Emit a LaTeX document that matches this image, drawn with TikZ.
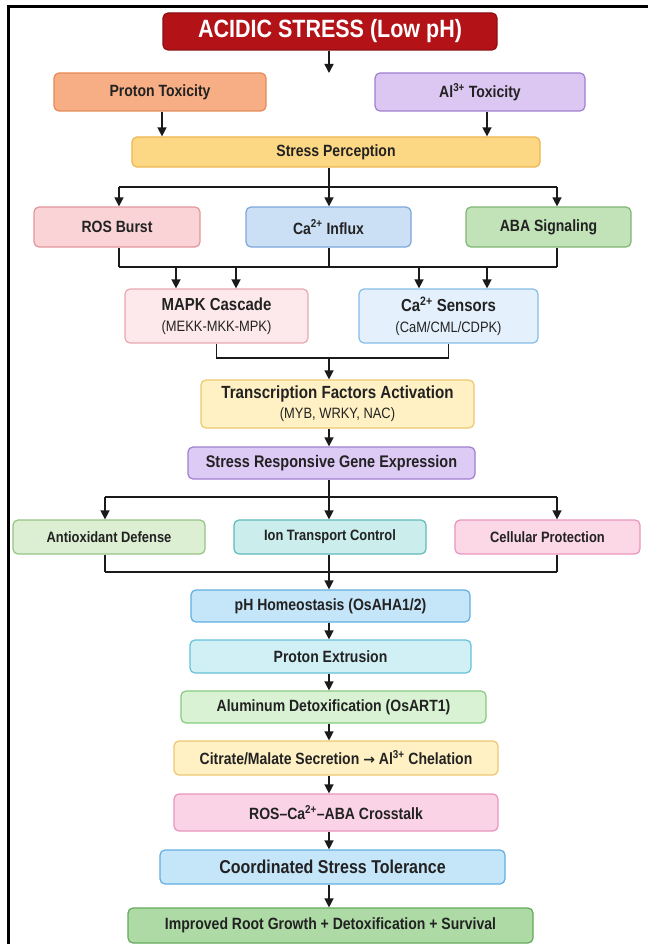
\documentclass[tikz,border=0pt]{standalone}
\usepackage{fontspec}
\setmainfont{Liberation Sans}[FakeStretch=0.86]
\newfontfamily\arrowfont{DejaVu Sans}
\usetikzlibrary{arrows.meta}

\definecolor{acidF}{HTML}{B31217}\definecolor{acidD}{HTML}{8E0E12}
\definecolor{protF}{HTML}{F8AE84}\definecolor{protD}{HTML}{E48A58}
\definecolor{alF}{HTML}{DCC6F2}\definecolor{alD}{HTML}{A07FD0}
\definecolor{percF}{HTML}{FCD884}\definecolor{percD}{HTML}{EDB550}
\definecolor{rosF}{HTML}{F9D3D6}\definecolor{rosD}{HTML}{E3959C}
\definecolor{cainF}{HTML}{CCE0F5}\definecolor{cainD}{HTML}{7AA7DA}
\definecolor{abaF}{HTML}{C2E3B8}\definecolor{abaD}{HTML}{7FB573}
\definecolor{mapkF}{HTML}{FDE9EB}\definecolor{mapkD}{HTML}{E6A8AF}
\definecolor{casF}{HTML}{E4F1FC}\definecolor{casD}{HTML}{86BCE8}
\definecolor{tfF}{HTML}{FFF1C4}\definecolor{tfD}{HTML}{EFC670}
\definecolor{srgeF}{HTML}{DECBF5}\definecolor{srgeD}{HTML}{A07FD0}
\definecolor{antiF}{HTML}{DDEFD2}\definecolor{antiD}{HTML}{95C486}
\definecolor{ionF}{HTML}{CBEDEC}\definecolor{ionD}{HTML}{5FBABA}
\definecolor{cellF}{HTML}{FCD7E6}\definecolor{cellD}{HTML}{E995BD}
\definecolor{phF}{HTML}{C5E5F8}\definecolor{phD}{HTML}{62AEE2}
\definecolor{pexF}{HTML}{D0F0F6}\definecolor{pexD}{HTML}{66C0D8}
\definecolor{aldF}{HTML}{DAF2D4}\definecolor{aldD}{HTML}{86CB7E}
\definecolor{crossF}{HTML}{FAD3E6}\definecolor{crossD}{HTML}{E995BD}
\definecolor{goodF}{HTML}{ADDAA5}\definecolor{goodD}{HTML}{64AA5A}
\definecolor{lnk}{HTML}{1A1A1A}
\definecolor{txt}{HTML}{222222}

\tikzset{
  box/.style={draw, rounded corners=5pt, line width=1.2pt, inner sep=0pt,
    align=center, text=txt, font=\bfseries\fontsize{16.3}{19}\selectfont},
  arr/.style={-{Triangle[width=9pt,length=9pt]}, line width=1.4pt, draw=lnk},
  wire/.style={line width=1.4pt, draw=lnk},
}
\newcommand{\subline}[1]{{\mdseries\fontsize{15}{18}\selectfont #1}}

\begin{document}
\begin{tikzpicture}[x=1pt,y=-1pt]
  \useasboundingbox (0,0) rectangle (648,944);
  \draw[line width=3pt] (8,944) -- (8,7) -- (648,7);

  % columns and buses
  \coordinate (axis) at (329,0);
  \coordinate (colL) at (119,0);
  \coordinate (colA) at (105,0);
  \coordinate (colR) at (557,0);
  \coordinate (hit) at (329,73);
  \coordinate (bus1) at (329,187);
  \coordinate (bus2) at (329,267);
  \coordinate (bus3) at (329,358);
  \coordinate (bus4) at (329,497);
  \coordinate (bus5) at (329,572);

  \node[box, fill=acidF, draw=acidD, text=white, minimum width=334, minimum height=37,
    font=\bfseries\fontsize{25}{28}\selectfont] (acid) at (330,31.5) {ACIDIC STRESS (Low pH)};
  \node[box, fill=protF, draw=protD, minimum width=212, minimum height=38] (proton) at (160,92) {Proton Toxicity};
  \node[box, fill=alF, draw=alD, minimum width=210, minimum height=38] (al) at (480,92) {Al\textsuperscript{3+} Toxicity};
  \node[box, fill=percF, draw=percD, minimum width=408, minimum height=30] (perc) at (336,152) {Stress Perception};

  \node[box, fill=rosF, draw=rosD, minimum width=166, minimum height=40] (ros) at (117,227) {ROS Burst};
  \node[box, fill=cainF, draw=cainD, minimum width=165, minimum height=40] (cain) at (328.5,227) {Ca\textsuperscript{2+} Influx};
  \node[box, fill=abaF, draw=abaD, minimum width=165, minimum height=40] (aba) at (548.5,227) {ABA Signaling};

  \node[box, fill=mapkF, draw=mapkD, minimum width=183, minimum height=54,
    font=\bfseries\fontsize{17.4}{21}\selectfont] (mapk) at (216.5,316)
    {MAPK Cascade\\\subline{(MEKK-MKK-MPK)}};
  \node[box, fill=casF, draw=casD, minimum width=179, minimum height=54,
    font=\bfseries\fontsize{17.4}{21}\selectfont] (cas) at (448.5,316)
    {Ca\textsuperscript{2+} Sensors\\\subline{(CaM/CML/CDPK)}};

  \node[box, fill=tfF, draw=tfD, minimum width=273, minimum height=48,
    font=\bfseries\fontsize{17.6}{20}\selectfont] (tf) at (337.5,404)
    {Transcription Factors Activation\\\subline{(MYB, WRKY, NAC)}};
  \node[box, fill=srgeF, draw=srgeD, minimum width=287, minimum height=32,
    font=\bfseries\fontsize{16.8}{19}\selectfont] (srge) at (331.5,463) {Stress Responsive Gene Expression};

  \node[box, fill=antiF, draw=antiD, minimum width=192, minimum height=34,
    font=\bfseries\fontsize{15}{18}\selectfont] (anti) at (109,537) {Antioxidant Defense};
  \node[box, fill=ionF, draw=ionD, minimum width=192, minimum height=34,
    font=\bfseries\fontsize{15}{18}\selectfont] (ion) at (330,537) {Ion Transport Control};
  \node[box, fill=cellF, draw=cellD, minimum width=185, minimum height=34,
    font=\bfseries\fontsize{15}{18}\selectfont] (cell) at (547.5,537) {Cellular Protection};

  \node[box, fill=phF, draw=phD, minimum width=279, minimum height=32] (ph) at (330.5,606) {pH Homeostasis (OsAHA1/2)};
  \node[box, fill=pexF, draw=pexD, minimum width=281, minimum height=33] (pex) at (330.5,656.5) {Proton Extrusion};
  \node[box, fill=aldF, draw=aldD, minimum width=305, minimum height=32] (ald) at (333.5,707) {Aluminum Detoxification (OsART1)};
  \node[box, fill=tfF, draw=tfD, minimum width=324, minimum height=34] (cit) at (336,758)
    {Citrate/Malate Secretion {\arrowfont\fontsize{14}{17}\selectfont →} Al\textsuperscript{3+} Chelation};
  \node[box, fill=crossF, draw=crossD, minimum width=324, minimum height=37] (cross) at (336,812.5) {ROS--Ca\textsuperscript{2+}--ABA Crosstalk};
  \node[box, fill=phF, draw=phD, minimum width=345, minimum height=34,
    font=\bfseries\fontsize{18.6}{22}\selectfont] (coord) at (332.5,867) {Coordinated Stress Tolerance};
  \node[box, fill=goodF, draw=goodD, minimum width=405, minimum height=35] (good) at (330.5,925.5) {Improved Root Growth + Detoxification + Survival};

  % top part
  \draw[arr] (acid.south -| axis) -- (hit);
  \draw[arr] (proton.south -| 162,0) -- (perc.north -| 162,0);
  \draw[arr] (al.south -| 487,0) -- (perc.north -| 487,0);

  \draw[wire] (perc.south -| axis) -- (bus1);
  \draw[wire] (bus1 -| colL) -- (bus1 -| colR);
  \foreach \c/\n in {colL/ros, axis/cain, colR/aba}
    \draw[arr] (bus1 -| \c) -- (\n.north -| \c);

  \foreach \c/\n in {colL/ros, axis/cain, colR/aba}
    \draw[wire] (\n.south -| \c) -- (bus2 -| \c);
  \draw[wire] (bus2 -| colL) -- (bus2 -| colR);
  \foreach \x/\n in {176/mapk, 236/mapk, 419/cas, 487/cas}
    \draw[arr] (bus2 -| \x,0) -- (\n.north -| \x,0);

  \draw[wire] (mapk.south) -- (mapk.south |- bus3) -- (cas.south |- bus3) -- (cas.south);
  \draw[arr] (bus3) -- (tf.north -| axis);
  \draw[arr] (tf.south -| axis) -- (srge.north -| axis);

  % response branches
  \draw[wire] (srge.south -| axis) -- (bus4);
  \draw[wire] (bus4 -| colA) -- (bus4 -| colR);
  \foreach \c/\n in {colA/anti, axis/ion, colR/cell}
    \draw[arr] (bus4 -| \c) -- (\n.north -| \c);
  \foreach \c/\n in {colA/anti, axis/ion, colR/cell}
    \draw[wire] (\n.south -| \c) -- (bus5 -| \c);
  \draw[wire] (bus5 -| colA) -- (bus5 -| colR);
  \draw[arr] (bus5) -- (ph.north -| axis);

  % main chain
  \foreach \a/\b in {ph/pex, pex/ald, ald/cit, cit/cross, cross/coord, coord/good}
    \draw[arr] (\a.south -| axis) -- (\b.north -| axis);
\end{tikzpicture}
\end{document}
